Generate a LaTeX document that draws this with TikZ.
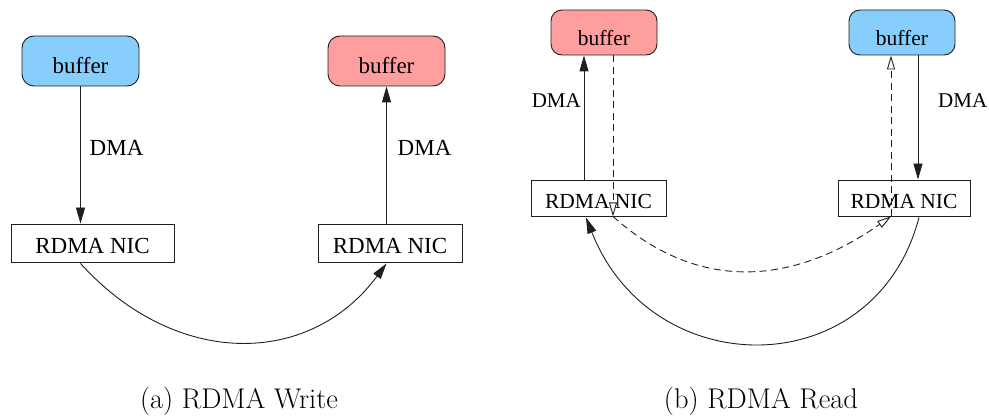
\documentclass[tikz,border=0pt]{standalone}
\usepackage{fontspec}
\newfontfamily\timesfont{Liberation Serif}
\usetikzlibrary{arrows.meta,calc}
\definecolor{bufblue}{RGB}{135,206,252}
\definecolor{bufred}{RGB}{255,158,158}
\definecolor{edge}{RGB}{30,30,30}
\tikzset{
  bufbox/.style={draw=edge, line width=0.9pt, rounded corners=12pt, inner sep=0pt,
    text height=26pt, text depth=0pt,
    font=\timesfont\fontsize{23}{23}\selectfont},
  smallbuf/.style={bufbox, rounded corners=11pt, text height=27pt, text depth=0pt,
    font=\timesfont\fontsize{21.5}{21.5}\selectfont},
  nicbox/.style={draw=edge, line width=0.9pt, inner sep=0pt,
    text height=21pt, text depth=0pt,
    font=\timesfont\fontsize{23}{23}\selectfont},
  smallnic/.style={nicbox, text height=20pt, text depth=0pt,
    font=\timesfont\fontsize{21.5}{21.5}\selectfont},
  lbl/.style={inner sep=0pt, font=\timesfont\fontsize{23}{23}\selectfont},
  smalllbl/.style={lbl, font=\timesfont\fontsize{21}{21}\selectfont},
  conn/.style={draw=edge, line width=0.9pt},
  fullhead/.style={-{Triangle[length=16pt,width=9pt]}},
  openhead/.style={-{Triangle[open,length=14pt,width=8pt]}},
  dashline/.style={dash pattern=on 7pt off 4.5pt},
  caption/.style={inner sep=0pt, font=\fontsize{28.5}{28.5}\selectfont}
}
\begin{document}
\begin{tikzpicture}[x=1pt,y=-1pt]
  \useasboundingbox (0,0) rectangle (989,417);

  % --- RDMA Write ---
  \node[bufbox, fill=bufblue, minimum width=117pt, minimum height=50pt] (wbufA) at (80.5,61) {buffer};
  \node[bufbox, fill=bufred, minimum width=117pt, minimum height=50pt] (wbufB) at (386.5,61) {buffer};
  \node[nicbox, minimum width=163pt, minimum height=38pt] (wnicA) at (92.5,243) {RDMA NIC};
  \node[nicbox, minimum width=144pt, minimum height=38pt] (wnicB) at (390,243) {RDMA NIC};

  \draw[conn, fullhead] (wbufA.south) -- (wbufA.south |- wnicA.north);
  \node[lbl, anchor=west] (wdmaA) at (89.5,148) {DMA};
  \draw[conn, fullhead] (wbufB.south |- wnicB.north) -- (wbufB.south);
  \node[lbl, anchor=west] (wdmaB) at (397.5,148) {DMA};

  \coordinate (wout) at ($(wnicA.south -| wbufA.south)+(0,1)$);
  \coordinate (win) at ($(wnicB.south -| wbufB.south)+(0,1)$);
  \draw[conn, fullhead] (wout) .. controls +(95,105) and +(-77,104) .. (win);

  \node[caption] (capA) at (239,401) {(a) RDMA Write};

  % --- RDMA Read ---
  \node[smallbuf, fill=bufred, minimum width=106pt, minimum height=45pt] (rbufA) at (604,32.5) {buffer};
  \node[smallbuf, fill=bufblue, minimum width=106pt, minimum height=45pt] (rbufB) at (902,32.5) {buffer};
  \node[smallnic, minimum width=135pt, minimum height=36pt] (rnicA) at (598.5,198) {RDMA NIC};
  \node[smallnic, minimum width=132pt, minimum height=36pt] (rnicB) at (904,198) {RDMA NIC};

  % requester side: DMA into the local buffer, dashed request path
  \draw[conn, fullhead] (rnicA.north -| 584,0) -- (rbufA.south -| 584,0);
  \node[smalllbl, anchor=east] (rdmaA) at (581,101) {DMA};
  \draw[conn, dashline, openhead] (rbufA.south -| 613,0) -- (rnicA.south -| 613,0);

  % responder side
  \draw[conn, dashline, openhead] (rnicB.south -| 891,0) -- (rbufB.south -| 891,0);
  \draw[conn, fullhead] (rbufB.south -| 918,0) -- (rnicB.north -| 918,0);
  \node[smalllbl, anchor=west] (rdmaB) at (938,101) {DMA};

  % network transfers between the two NICs
  \draw[conn, dashline, openhead] (rnicA.south -| 613,0) .. controls (694,289) and (787,289) .. (rnicB.south -| 891,0);
  \draw[conn, fullhead] ($(rnicB.south -| 919,0)+(0,1)$) .. controls (875,385) and (652,385) .. ($(rnicA.south -| 586,0)+(0,1)$);

  \node[caption] (capB) at (761,401) {(b) RDMA Read};
\end{tikzpicture}
\end{document}
